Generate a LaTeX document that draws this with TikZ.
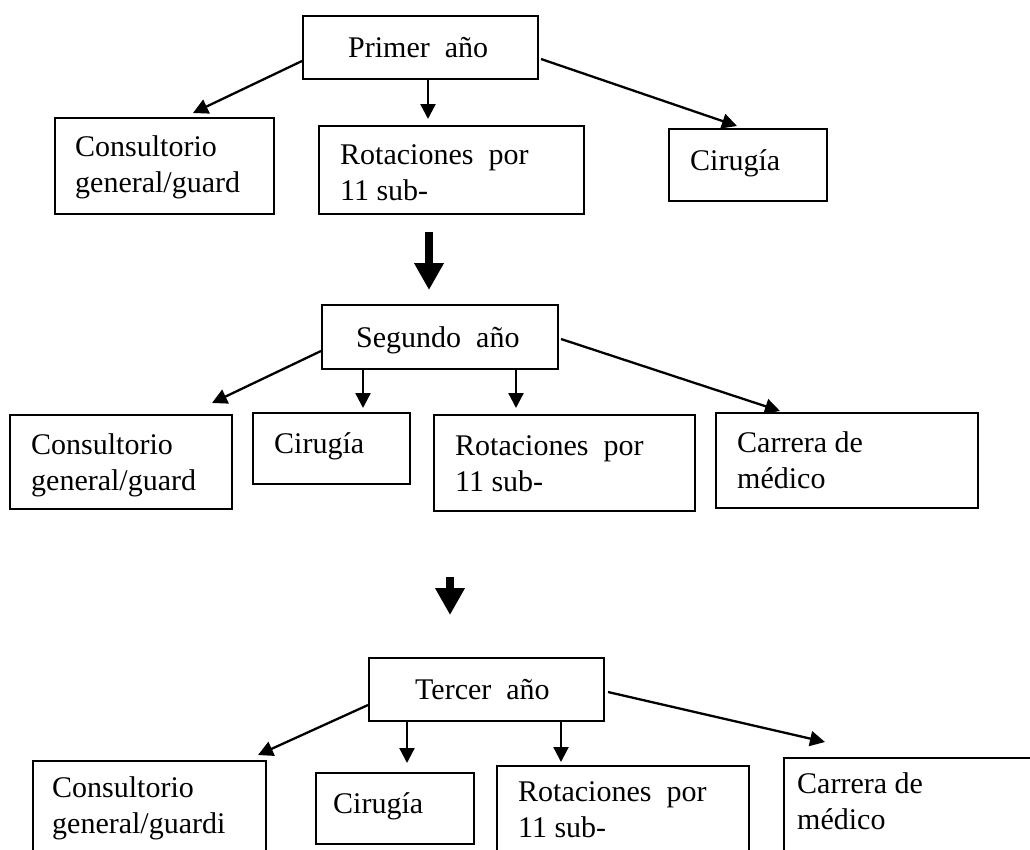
\documentclass[tikz,border=0pt]{standalone}
\usepackage{fontspec}
\setmainfont{Liberation Serif}
\usetikzlibrary{arrows.meta,calc}
\tikzset{
  box/.style={draw, line width=2pt, inner sep=0pt, anchor=north west},
  txt/.style={inner sep=0pt, anchor=base west, font=\fontsize{30}{36}\selectfont},
  arr/.style={-{Triangle[length=15pt,width=15pt]}, line width=2.3pt},
  bigarr/.style={-{Triangle[length=27pt,width=28pt]}, line width=8.5pt}
}
\newcommand{\twoline}[2]{\begin{tabular}[t]{@{}l@{}}#1\\#2\end{tabular}}
\begin{document}
\begin{tikzpicture}[x=1pt,y=-1pt]
\useasboundingbox (0,0) rectangle (1030,849);
\clip (0,0) rectangle (1030,849);
% ---- first year
\node[box, minimum width=235, minimum height=63] (p1) at (302,15) {};
\node[txt] (p1t) at (348,57) {Primer\ \ año};
\node[box, minimum width=219, minimum height=96] (c1) at (54,117) {};
\node[txt] (c1t) at (75,156) {\twoline{Consultorio}{general/guard}};
\node[box, minimum width=265, minimum height=88] (r1) at (318,125) {};
\node[txt] (r1t) at (340,164) {\twoline{Rotaciones\ \ por}{11 sub-}};
\node[box, minimum width=158, minimum height=72] (s1) at (668,128) {};
\node[txt] (s1t) at (690,170) {Cirugía};
\draw[arr] ($(p1.north west)+(0,46)$) -- ($(c1.north west)+(139,-4)$);
\draw[arr] ($(p1.south west)+(126,0)$) -- ($(r1.north west)+(110,-6)$);
\draw[arr] ($(p1.north east)+(2,44)$) -- ($(s1.north west)+(69,-2)$);
% ---- big arrow 1
\coordinate (b1s) at (429,232);
\coordinate (b1e) at (429,290);
\draw[bigarr] (b1s) -- (b1e);
% ---- second year
\node[box, minimum width=236, minimum height=64] (g2) at (321,304) {};
\node[txt] (g2t) at (356,347) {Segundo\ \ año};
\node[box, minimum width=222, minimum height=94] (c2) at (9,414) {};
\node[txt] (c2t) at (31,454) {\twoline{Consultorio}{general/guard}};
\node[box, minimum width=157, minimum height=71] (s2) at (252,412) {};
\node[txt] (s2t) at (274,453) {Cirugía};
\node[box, minimum width=261, minimum height=96] (r2) at (433,414) {};
\node[txt] (r2t) at (455,455) {\twoline{Rotaciones\ \ por}{11 sub-}};
\node[box, minimum width=262, minimum height=95] (k2) at (715,412) {};
\node[txt] (k2t) at (737,452) {\twoline{Carrera de}{médico}};
\draw[arr] ($(g2.north west)+(0,47)$) -- ($(c2.north west)+(203,-11)$);
\draw[arr] ($(g2.south west)+(42,0)$) -- ($(s2.north west)+(111,-4)$);
\draw[arr] ($(g2.south west)+(195,0)$) -- ($(r2.north west)+(83,-6)$);
\draw[arr] ($(g2.north east)+(2,35)$) -- ($(k2.north west)+(65,-1)$);
% ---- big arrow 2
\coordinate (b2s) at (450,577);
\coordinate (b2e) at (450,615);
\draw[bigarr] (b2s) -- (b2e);
% ---- third year
\node[box, minimum width=235, minimum height=63] (t3) at (368,657) {};
\node[txt] (t3t) at (415,699) {Tercer\ \ año};
\node[box, minimum width=233, minimum height=130] (c3) at (32,760) {};
\node[txt] (c3t) at (52,797) {\twoline{Consultorio}{general/guardi}};
\node[box, minimum width=158, minimum height=71] (s3) at (315,772) {};
\node[txt] (s3t) at (333,813) {Cirugía};
\node[box, minimum width=252, minimum height=130] (r3) at (496,765) {};
\node[txt] (r3t) at (518,801) {\twoline{Rotaciones\ \ por}{11 sub-}};
\node[box, minimum width=300, minimum height=130] (k3) at (783,757) {};
\node[txt] (k3t) at (797,793) {\twoline{Carrera de}{médico}};
\draw[arr] ($(t3.north west)+(0,48)$) -- ($(c3.north west)+(226,-5)$);
\draw[arr] ($(t3.south west)+(39,0)$) -- ($(s3.north west)+(92,-9)$);
\draw[arr] ($(t3.south west)+(193,0)$) -- ($(r3.north west)+(65,-3)$);
\draw[arr] ($(t3.north east)+(3,35)$) -- ($(k3.north west)+(42,-15)$);
\end{tikzpicture}
\end{document}
